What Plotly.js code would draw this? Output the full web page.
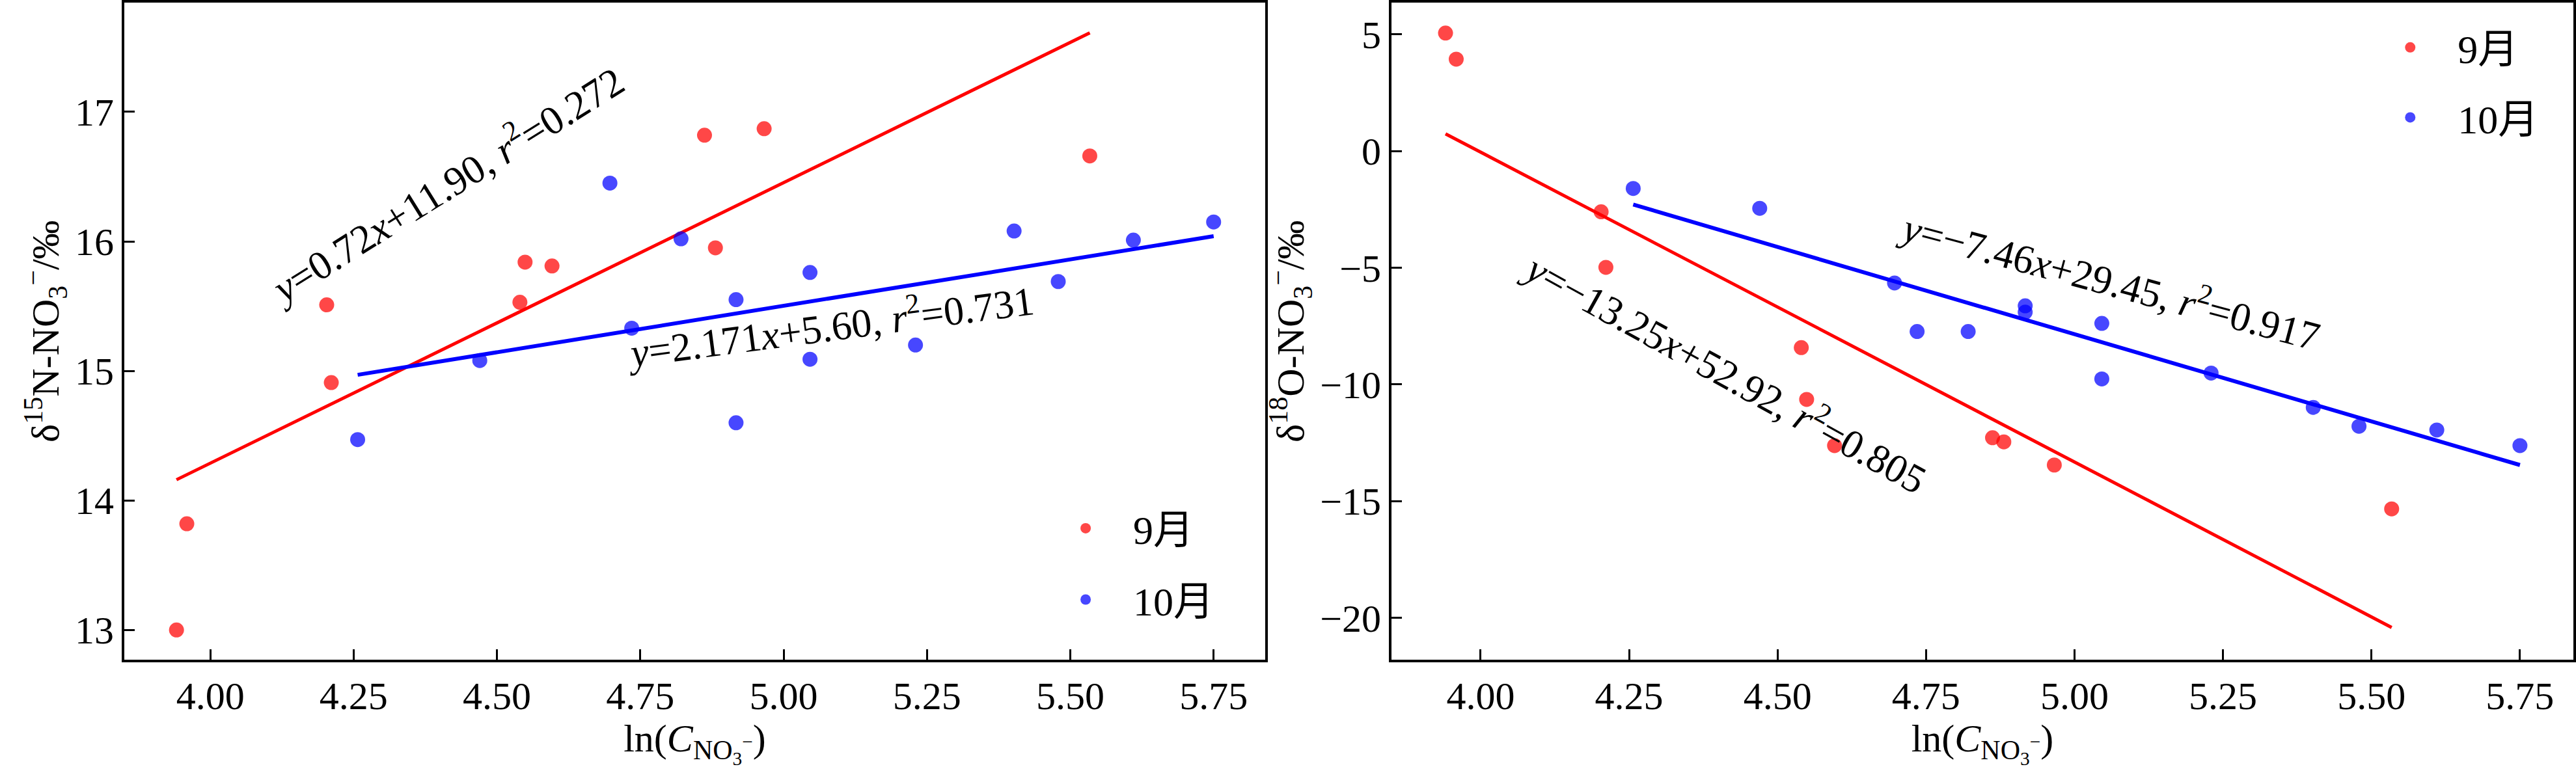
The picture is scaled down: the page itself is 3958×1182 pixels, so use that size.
<!DOCTYPE html>
<html>
<head>
<meta charset="utf-8">
<script src="https://cdn.plot.ly/plotly-3.0.1.min.js"></script>
<style>
  html, body { margin: 0; padding: 0; background: #fff; }
  #chart { width: 3958px; height: 1182px; }
</style>
</head>
<body>
<div id="chart"></div>
<script>
// ln(C_NO3-) of each sample, September and October
const lnSep = [3.941, 3.959, 4.203, 4.211, 4.540, 4.549, 4.596, 4.862, 4.881, 4.966, 5.534];
const lnOct = [4.257, 4.470, 4.697, 4.735, 4.821, 4.917, 4.917, 5.046, 5.046, 5.230, 5.402, 5.479, 5.610, 5.750];

// delta 15N-NO3 (per mil)
const d15Sep = [13.00, 13.82, 15.51, 14.91, 15.53, 15.84, 15.81, 16.82, 15.95, 16.87, 16.66];
const d15Oct = [14.47, 15.08, 16.45, 15.33, 16.02, 15.55, 14.60, 15.76, 15.09, 15.20, 16.08, 15.69, 16.01, 16.15];

// delta 18O-NO3 (per mil)
const d18Sep = [5.06, 3.94, -2.60, -4.98, -8.42, -10.64, -12.62, -12.28, -12.46, -13.45, -15.33];
const d18Oct = [-1.60, -2.45, -5.65, -7.73, -7.73, -6.63, -6.90, -7.38, -9.76, -9.51, -10.98, -11.79, -11.95, -12.62];

// fitted lines, end points as drawn
const fitSepX = [3.941, 5.534];
const fitOctX = [4.257, 5.750];
const fit15SepY = [14.16, 17.61];
const fit15OctY = [14.97, 16.04];
const fit18SepY = [0.74, -20.41];
const fit18OctY = [-2.29, -13.45];

const months = ['9月', '10月'];
const xTicks = [4.00, 4.25, 4.50, 4.75, 5.00, 5.25, 5.50, 5.75];

const eqLabels = [
    { text: '<i>y</i>=0.72<i>x</i>+11.90, <i>r</i><sup>2</sup>=0.272', x: 4.410, y: 16.45, angle: -32, xref: 'x', yref: 'y' },
    { text: '<i>y</i>=2.171<i>x</i>+5.60, <i>r</i><sup>2</sup>=0.731', x: 5.080, y: 15.36, angle: -7.5, xref: 'x', yref: 'y' },
    { text: '<i>y</i>=−13.25<i>x</i>+52.92, <i>r</i><sup>2</sup>=0.805', x: 4.413, y: -9.40, angle: 29, xref: 'x2', yref: 'y2' },
    { text: '<i>y</i>=−7.46<i>x</i>+29.45, <i>r</i><sup>2</sup>=0.917', x: 5.060, y: -5.45, angle: 15, xref: 'x2', yref: 'y2' }
];

const FONT = '"Liberation Serif", "Times New Roman", "Noto Sans CJK SC", serif';
const RED_PT = 'rgba(255,0,0,0.72)';
const BLUE_PT = 'rgba(0,0,255,0.72)';

function pointTrace(x, y, color, name, axis, legend) {
    return {
        x: x, y: y,
        type: 'scatter', mode: 'markers',
        name: name,
        legend: legend,
        legendgroup: legend + name,
        xaxis: 'x' + axis, yaxis: 'y' + axis,
        marker: { color: color, size: 23 },
        hoverinfo: 'x+y'
    };
}

function lineTrace(x, y, color, width, axis) {
    return {
        x: x, y: y,
        type: 'scatter', mode: 'lines',
        xaxis: 'x' + axis, yaxis: 'y' + axis,
        line: { color: color, width: width },
        showlegend: false,
        hoverinfo: 'skip'
    };
}

const traces = [
    lineTrace(fitSepX, fit15SepY, '#ff0000', 5, ''),
    lineTrace(fitOctX, fit15OctY, '#0000ff', 6, ''),
    pointTrace(lnSep, d15Sep, RED_PT, months[0], '', 'legend'),
    pointTrace(lnOct, d15Oct, BLUE_PT, months[1], '', 'legend'),
    lineTrace(fitSepX, fit18SepY, '#ff0000', 5, '2'),
    lineTrace(fitOctX, fit18OctY, '#0000ff', 6, '2'),
    pointTrace(lnSep, d18Sep, RED_PT, months[0], '2', 'legend2'),
    pointTrace(lnOct, d18Oct, BLUE_PT, months[1], '2', 'legend2')
];

function xAxis(domain, anchor) {
    return {
        domain: domain, anchor: anchor,
        range: [3.85, 5.84],
        tickvals: xTicks,
        ticktext: xTicks.map(v => v.toFixed(2)),
        ticks: 'inside', ticklen: 16, tickwidth: 3, tickcolor: '#000',
        showline: true, linewidth: 4, linecolor: '#000', mirror: true,
        showgrid: false, zeroline: false,
        tickfont: { family: FONT, size: 60, color: '#000' },
        title: {
            text: 'ln(<i>C</i><sub>NO<sub>3</sub><sup>−</sup></sub>)',
            font: { family: FONT, size: 60, color: '#000' },
            standoff: 10
        }
    };
}

function yAxis(domain, anchor, range, dtick, title) {
    return {
        domain: domain, anchor: anchor,
        range: range, dtick: dtick,
        ticks: 'inside', ticklen: 16, tickwidth: 3, tickcolor: '#000',
        showline: true, linewidth: 4, linecolor: '#000', mirror: true,
        showgrid: false, zeroline: false,
        tickfont: { family: FONT, size: 60, color: '#000' },
        title: {
            text: title,
            font: { family: FONT, size: 60, color: '#000' },
            standoff: 6
        }
    };
}

const yDomain = [0.1422, 0.9962];

const layout = {
    width: 3958, height: 1182,
    margin: { l: 0, r: 0, t: 0, b: 0 },
    paper_bgcolor: '#fff', plot_bgcolor: '#fff',
    font: { family: FONT, size: 60, color: '#000' },
    xaxis: xAxis([0.04826, 0.49116], 'y'),
    yaxis: yAxis(yDomain, 'x', [12.771, 17.841], 1, 'δ<sup>15</sup>N-NO<sub>3</sub><sup>−</sup>/‰'),
    xaxis2: xAxis([0.54017, 0.99899], 'y2'),
    yaxis2: yAxis(yDomain, 'x2', [-21.79, 6.35], 5, 'δ<sup>18</sup>O-NO<sub>3</sub><sup>−</sup>/‰'),
    legend: {
        x: 0.403, y: 0.3527, xanchor: 'left', yanchor: 'top',
        bgcolor: 'rgba(0,0,0,0)', borderwidth: 0,
        itemwidth: 136, traceorder: 'grouped', tracegroupgap: 26,
        font: { family: FONT, size: 62, color: '#000' }
    },
    legend2: {
        x: 0.9172, y: 0.978, xanchor: 'left', yanchor: 'top',
        bgcolor: 'rgba(0,0,0,0)', borderwidth: 0,
        itemwidth: 136, traceorder: 'grouped', tracegroupgap: 24,
        font: { family: FONT, size: 62, color: '#000' }
    },
    annotations: eqLabels.map(a => ({
        text: a.text, x: a.x, y: a.y, xref: a.xref, yref: a.yref,
        textangle: a.angle, showarrow: false,
        xanchor: 'center', yanchor: 'middle',
        font: { family: FONT, size: 62, color: '#000' }
    })),
    showlegend: true
};

Plotly.newPlot('chart', traces, layout, { displayModeBar: false, staticPlot: true });
</script>
</body>
</html>
